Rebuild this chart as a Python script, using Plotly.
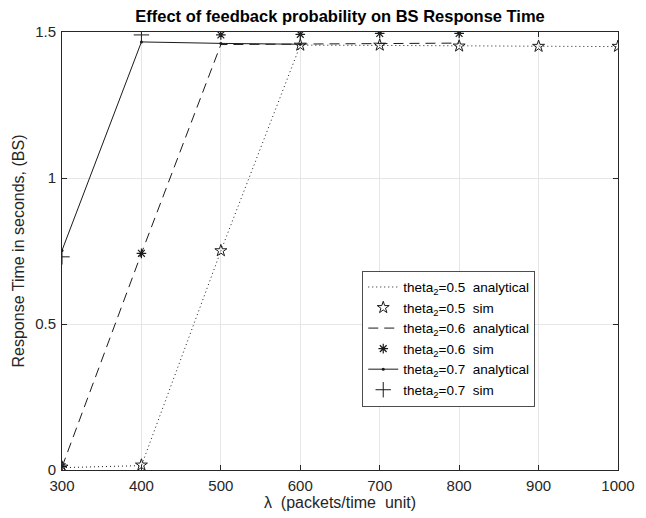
import plotly.graph_objects as go

lam = [300, 400, 500, 600, 700, 800, 900, 1000]
lam06 = [300, 400, 500, 600, 700, 800]
lam07_an = [300, 400, 500, 600]
lam07_sim = [300, 400]

t05_an = [0.008, 0.015, 0.750, 1.455, 1.454, 1.452, 1.451, 1.450]
t05_sim = [0.010, 0.017, 0.751, 1.455, 1.455, 1.452, 1.451, 1.451]
t06_an = [0.010, 0.742, 1.457, 1.458, 1.461, 1.462]
t06_sim = [0.012, 0.742, 1.490, 1.492, 1.495, 1.495]
t07_an = [0.752, 1.466, 1.461, 1.458]
t07_sim = [0.730, 1.490]

names = [
    "theta<sub>2</sub>=0.5  analytical",
    "theta<sub>2</sub>=0.5  sim",
    "theta<sub>2</sub>=0.6  analytical",
    "theta<sub>2</sub>=0.6  sim",
    "theta<sub>2</sub>=0.7  analytical",
    "theta<sub>2</sub>=0.7  sim",
]

ink = "#1a1a1a"
fig = go.Figure()
fig.add_trace(go.Scatter(x=lam, y=t05_an, mode="lines", name=names[0],
                         line=dict(color=ink, width=1, dash="1px,3px")))
fig.add_trace(go.Scatter(x=lam, y=t05_sim, mode="markers", name=names[1],
                         marker=dict(symbol="star-open", size=9, color=ink, line=dict(width=1, color=ink))))
fig.add_trace(go.Scatter(x=lam06, y=t06_an, mode="lines", name=names[2],
                         line=dict(color=ink, width=1, dash="10px,6px")))
fig.add_trace(go.Scatter(x=lam06, y=t06_sim, mode="markers", name=names[3],
                         marker=dict(symbol="asterisk-open", size=8, color=ink, line=dict(width=1.2, color=ink))))
fig.add_trace(go.Scatter(x=lam07_an, y=t07_an, mode="lines+markers", name=names[4],
                         line=dict(color=ink, width=1),
                         marker=dict(symbol="circle", size=3, color=ink)))
fig.add_trace(go.Scatter(x=lam07_sim, y=t07_sim, mode="markers", name=names[5],
                         marker=dict(symbol="cross-thin-open", size=11, color=ink, line=dict(width=1, color=ink))))

axis_common = dict(
    showgrid=True, gridcolor="#e6e6e6", gridwidth=1,
    showline=True, linecolor="#262626", linewidth=1, mirror="allticks",
    ticks="inside", ticklen=5, tickcolor="#262626",
    tickfont=dict(size=15, color="#262626"), zeroline=False,
    automargin=False,
)

fig.update_layout(
    width=646, height=518,
    margin=dict(l=54, r=36, t=24, b=56),
    paper_bgcolor="white", plot_bgcolor="white",
    font=dict(family="Liberation Sans, Arial, sans-serif", color="#262626"),
    title=dict(text="<b>Effect of feedback probability on BS Response Time</b>",
               x=0.514, xanchor="center", y=0.995, yanchor="top",
               font=dict(size=16.5, color="#000000")),
    xaxis=dict(range=[300, 1000], tickvals=[300, 400, 500, 600, 700, 800, 900, 1000],
               title=dict(text="λ  (packets/time  unit)", font=dict(size=16), standoff=3),
               ticklabelstandoff=2,
               **axis_common),
    yaxis=dict(range=[0, 1.5], tickvals=[0, 0.5, 1, 1.5], ticktext=["0", "0.5", "1", "1.5"],
               title=dict(text="Response Time in seconds, (BS)", font=dict(size=16), standoff=6),
               ticklabelstandoff=2,
               **axis_common),
    legend=dict(x=0.54, y=0.455, xanchor="left", yanchor="top",
                bgcolor="white", bordercolor="#4d4d4d", borderwidth=1,
                font=dict(size=13.5, color="#000000"), tracegroupgap=0,
                itemwidth=30),
    showlegend=True,
)

fig.write_html("out.html")
